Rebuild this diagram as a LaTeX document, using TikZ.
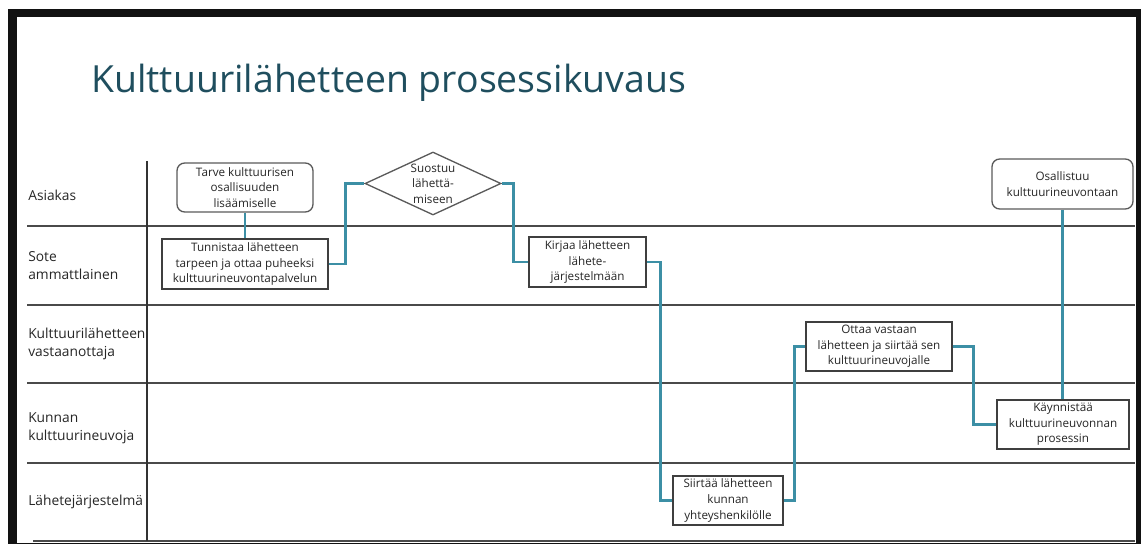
\documentclass[tikz,border=0pt]{standalone}
\usepackage{fontspec}
\setmainfont{Open Sans}
\usepackage{xcolor}
\usetikzlibrary{arrows.meta,calc,positioning,shapes.geometric}
\definecolor{titleteal}{HTML}{1F4E5E}
\definecolor{flowteal}{HTML}{3C8FA5}
\definecolor{laneline}{HTML}{4A4A4A}
\definecolor{boxline}{HTML}{3F3F3F}
\definecolor{roundline}{HTML}{5A5A5A}
\newcommand{\pxu}{0.025cm}

\begin{document}
\begin{tikzpicture}[x=0.025cm,y=-0.025cm,
    taskbox/.style={draw=boxline, line width=0.033cm, fill=white, align=center, inner sep=0pt,
      font=\fontsize{8.3}{11.1}\selectfont, text=black!85},
    eventbox/.style={taskbox, draw=roundline, rounded corners=5.5pt},
    choicebox/.style={taskbox, draw=roundline, diamond, aspect=2.16},
    flow/.style={draw=flowteal, line width=0.06cm},
    lane/.style={draw=laneline, line width=0.035cm},
    lanelabel/.style={anchor=west, align=left, inner sep=0pt,
      font=\fontsize{9.8}{12.8}\selectfont, text=black!85}]
  \useasboundingbox (0,0) rectangle (1141,544);

  % Drawing frame
  \fill[black!93] (8,9) rectangle (17,544);
  \fill[black!93] (8,9) rectangle (1141,17);
  \fill[black!93] (1136,9) rectangle (1141,544);
  \fill[black!93] (8,543) rectangle (1141,544);

  % Marking title
  \node[anchor=base west, inner sep=0pt, text=titleteal,
    font=\fontsize{26.6}{30}\selectfont] (title) at (91,93) {Kulttuurilähetteen prosessikuvaus};

  % Drawing lanes
  \foreach \y in {226,305,383,463} {
    \draw[lane] (27,\y) -- (1135,\y);
  }
  \draw[lane] (33,541) -- (1135,541);
  \draw[line width=0.03cm, black!80] (147,161) -- (147,541);

  % Marking lane names
  \node[lanelabel] (asiakas) at (28,195) {Asiakas};
  \node[lanelabel] (sote) at (28,266) {Sote\\ammattlainen};
  \node[lanelabel] (vastaanottaja) at (28,344) {Kulttuurilähetteen\\vastaanottaja};
  \node[lanelabel] (neuvoja) at (28,428) {Kunnan\\kulttuurineuvoja};
  \node[lanelabel] (jarjestelma) at (28,502) {Lähetejärjestelmä};

  % Drawing steps
  \node[eventbox, minimum width=136*\pxu, minimum height=49*\pxu] (tarve) at (245,187.5)
    {Tarve kulttuurisen\\osallisuuden\\lisäämiselle};
  \node[taskbox, minimum width=166*\pxu, minimum height=50*\pxu] (tunnistaa) at (245,264)
    {Tunnistaa lähetteen\\tarpeen ja ottaa puheeksi\\kulttuurineuvontapalvelun};
  \node[choicebox, minimum width=136*\pxu, minimum height=63*\pxu] (suostuu) at (433,183.5)
    {Suostuu\\lähettä-\\miseen};
  \node[taskbox, minimum width=117*\pxu, minimum height=50*\pxu] (kirjaa) at (587.5,262)
    {Kirjaa lähetteen\\lähete-\\järjestelmään};
  \node[taskbox, minimum width=110*\pxu, minimum height=49*\pxu] (siirtaa) at (728,500.5)
    {Siirtää lähetteen\\kunnan\\yhteyshenkilölle};
  \node[taskbox, minimum width=146*\pxu, minimum height=49*\pxu] (ottaa) at (879,346.5)
    {Ottaa vastaan\\lähetteen ja siirtää sen\\kulttuurineuvojalle};
  \node[taskbox, minimum width=132*\pxu, minimum height=49*\pxu] (kaynnistaa) at (1063,424.5)
    {Käynnistää\\kulttuurineuvonnan\\prosessin};
  \node[eventbox, minimum width=141*\pxu, minimum height=50*\pxu] (osallistuu) at (1062.5,184)
    {Osallistuu\\kulttuurineuvontaan};

  % Drawing connectors
  \draw[flow] (tarve.south) -- (tunnistaa.north);
  \draw[flow] (tunnistaa.east) -- ++(17,0) |- (suostuu.west);
  \draw[flow] (suostuu.east) -- ++(12,0) |- (kirjaa.west);
  \draw[flow] (kirjaa.east) -- ++(14,0) |- (siirtaa.west);
  \draw[flow] (siirtaa.east) -- ++(11,0) |- (ottaa.west);
  \draw[flow] (ottaa.east) -- ++(21,0) |- (kaynnistaa.west);
  \draw[flow] (osallistuu.south) -- (osallistuu.south |- kaynnistaa.north);
\end{tikzpicture}
\end{document}
